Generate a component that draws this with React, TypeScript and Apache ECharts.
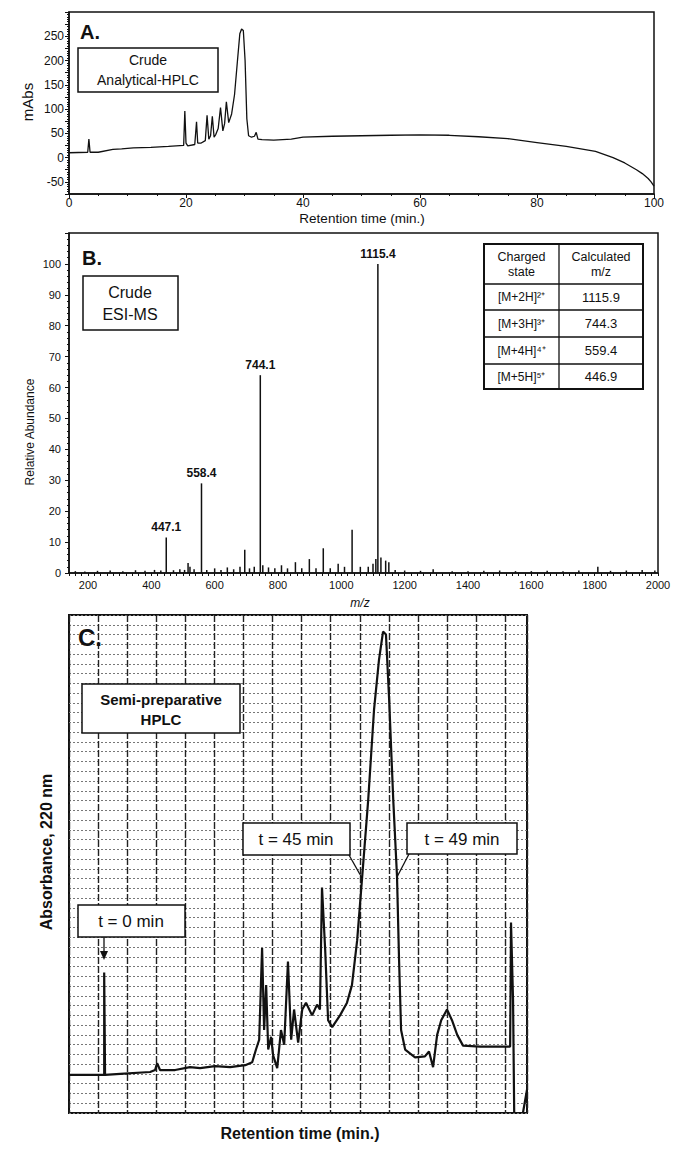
import { useEffect, useRef } from "react";
import * as echarts from "echarts";

const FONT = '"Liberation Sans", Arial, Helvetica, sans-serif';
const INK = "#111";

// ---------- Panel A: crude analytical HPLC ----------
const aTime = [0, 3.2, 3.4, 3.6, 5, 7.5, 9, 11, 14, 17, 19.6, 19.8, 20.0, 20.3, 21.5, 21.8, 22.0, 22.6, 23.3, 23.6, 23.9, 24.2, 24.5, 24.8, 25.1, 25.5, 25.9, 26.3, 26.6, 26.9, 27.3, 27.8, 28.3, 28.8, 29.2, 29.5, 29.8, 30.1, 30.4, 30.7, 31.2, 31.7, 32.0, 32.3, 33, 35, 38, 40, 45, 50, 55, 60, 65, 70, 75, 80, 85, 90, 93, 95, 97, 98, 99, 99.5, 100];
const aMAbs = [10, 11, 38, 11, 11, 17, 18, 20, 21, 23, 25, 96, 30, 24, 27, 74, 30, 30, 35, 87, 38, 45, 85, 42, 48, 60, 103, 55, 70, 115, 72, 90, 130, 200, 255, 265, 262, 200, 80, 45, 42, 44, 52, 38, 37, 36, 38, 42, 44, 45, 46, 47, 46, 43, 39, 31, 23, 13, 0, -11, -25, -33, -43, -50, -59];

// ---------- Panel B: crude ESI-MS ----------
const msMz = [160, 190, 230, 270, 310, 350, 380, 410, 430, 470, 490, 505, 516, 522, 535, 575, 600, 620, 640, 660, 680, 695, 710, 725, 752, 770, 790, 811, 830, 855, 875, 899, 920, 943, 965, 990, 1010, 1034, 1060, 1085, 1100, 1109, 1125, 1140, 1150, 1170, 1200, 1250, 1290, 1350, 1400, 1450, 1500, 1550, 1600, 1650, 1700, 1750, 1810, 1850, 1900, 1950, 1990];
const msAbund = [0.6, 0.5, 0.7, 0.8, 0.6, 0.9, 0.7, 1.0, 0.8, 0.9, 1.2, 1.0, 3.2, 2.0, 1.2, 1.0, 1.5, 1.0, 1.8, 1.2, 2.0, 7.5, 1.5, 2.0, 2.5, 1.8, 1.5, 2.5, 1.5, 3.5, 1.5, 4.5, 1.5, 8.0, 1.5, 3.0, 2.0, 14.0, 2.0, 2.0, 3.0, 4.5, 5.0, 4.0, 3.5, 1.0, 0.8, 0.7, 1.2, 0.6, 0.6, 0.7, 0.8, 0.6, 0.6, 0.7, 0.6, 0.8, 2.0, 0.7, 0.8, 1.0, 0.8];
const msPeakMz = [447.1, 558.4, 744.1, 1115.4];
const msPeakAbund = [11.5, 29, 64, 100];
const tableStates = ["[M+2H]²⁺", "[M+3H]³⁺", "[M+4H]⁴⁺", "[M+5H]⁵⁺"];
const tableCalc = ["1115.9", "744.3", "559.4", "446.9"];

// ---------- Panel C: semi-preparative HPLC (chart-paper divisions) ----------
const cDiv = [-1.0, 0.21, 0.21, 0.24, 0.76, 1.79, 1.96, 2.03, 2.13, 2.65, 3.16, 3.51, 4.02, 4.54, 5.06, 5.30, 5.43, 5.54, 5.64, 5.71, 5.78, 5.85, 5.95, 6.02, 6.16, 6.29, 6.40, 6.53, 6.64, 6.74, 6.88, 7.02, 7.15, 7.36, 7.53, 7.63, 7.70, 7.81, 7.91, 8.05, 8.32, 8.56, 8.73, 8.91, 9.08, 9.29, 9.49, 9.66, 9.80, 9.90, 10.01, 10.15, 10.28, 10.35, 10.42, 10.56, 10.90, 11.24, 11.38, 11.52, 11.66, 11.80, 12.00, 12.17, 12.35, 12.55, 13.14, 14.17, 14.20, 14.27, 14.31, 14.45, 14.61, 14.75];
const cAbs = [3.9, 3.9, 14.4, 3.9, 4.0, 4.2, 4.4, 5.1, 4.4, 4.4, 4.7, 4.6, 4.8, 4.7, 4.9, 5.2, 6.5, 7.5, 16.9, 8.5, 13.1, 6.5, 7.8, 5.9, 4.6, 8.5, 7.0, 15.5, 7.5, 10.6, 7.2, 10.6, 11.3, 10.0, 11.1, 10.6, 23.1, 16.7, 9.5, 8.8, 10.0, 11.3, 13.1, 17.7, 24.1, 32.1, 41.3, 46.4, 49.3, 49.0, 42.3, 32.1, 24.2, 15.7, 8.5, 6.5, 5.7, 5.8, 6.3, 4.7, 8.0, 9.5, 10.6, 9.5, 8.0, 6.9, 6.8, 6.8, 19.5, 11.6, 0, null, 0, 2.4];

function txt(text: string, x: number, y: number, size: number, opts: any = {}) {
  const weight = opts.bold ? "bold " : "";
  const italic = opts.italic ? "italic " : "";
  return {
    type: "text",
    x,
    y,
    z: 110,
    rotation: opts.rotation || 0,
    style: {
      text,
      font: `${italic}${weight}${size}px ${FONT}`,
      fill: INK,
      align: opts.align || "center",
      textAlign: opts.align || "center",
      verticalAlign: "middle",
      textVerticalAlign: "middle",
      lineHeight: opts.lineHeight,
    },
  };
}
function box(x: number, y: number, w: number, h: number, lw = 1.5) {
  return { type: "rect", z: 105, shape: { x, y, width: w, height: h }, style: { fill: "#fff", stroke: INK, lineWidth: lw } };
}
function ln(x1: number, y1: number, x2: number, y2: number, lw = 1.3) {
  return { type: "line", z: 106, shape: { x1, y1, x2, y2 }, style: { stroke: INK, lineWidth: lw } };
}

function buildOption(): any {
  const axisLabelStyle = (size: number) => ({ color: INK, fontFamily: FONT, fontSize: size });

  const msData: any[] = msMz.map((m, i) => [m, msAbund[i]]);
  msPeakMz.forEach((m, i) => {
    msData.push({
      value: [m, msPeakAbund[i]],
      label: {
        show: true,
        position: "top",
        distance: 4,
        formatter: (p: any) => p.value[0].toFixed(1),
        fontFamily: FONT,
        fontSize: 12,
        fontWeight: "bold",
        color: INK,
      },
    });
  });

  const graphic: any[] = [];
  // Panel A annotations
  graphic.push(txt("A.", 90, 32, 20, { bold: true }));
  graphic.push(box(78, 48, 140, 44));
  graphic.push(txt("Crude\nAnalytical-HPLC", 148, 70, 14, { lineHeight: 20 }));
  graphic.push(txt("mAbs", 27, 102, 15, { rotation: Math.PI / 2 }));
  graphic.push(txt("Retention time (min.)", 362, 218, 13.5));

  // Panel B annotations
  graphic.push(txt("B.", 92, 258, 20, { bold: true }));
  graphic.push(box(83, 276, 95, 54));
  graphic.push(txt("Crude\nESI-MS", 130, 303, 16, { lineHeight: 22 }));
  graphic.push(txt("Relative Abundance", 30, 432, 12, { rotation: Math.PI / 2 }));
  graphic.push(txt("m/z", 360, 603, 12, { italic: true }));
  // table
  const tX = 484, tY = 244, tW = 159, colX = 559;
  const rowLines = [284, 310, 337, 364, 389];
  graphic.push(box(tX, tY, tW, rowLines[4] - tY, 2));
  graphic.push(ln(colX, tY, colX, rowLines[4], 1.3));
  for (let i = 0; i < 4; i++) graphic.push(ln(tX, rowLines[i], tX + tW, rowLines[i], 1.3));
  graphic.push(txt("Charged\nstate", (tX + colX) / 2, 264, 12.5, { lineHeight: 15 }));
  graphic.push(txt("Calculated\nm/z", (colX + tX + tW) / 2, 264, 12.5, { lineHeight: 15 }));
  for (let i = 0; i < 4; i++) {
    const cy = (rowLines[i] + rowLines[i + 1]) / 2;
    graphic.push(txt(tableStates[i], (tX + colX) / 2, cy, 12));
    graphic.push(txt(tableCalc[i], (colX + tX + tW) / 2, cy, 13));
  }

  // Panel C annotations
  graphic.push(txt("C.", 90, 637, 24, { bold: true }));
  graphic.push(box(82, 684, 158, 49));
  graphic.push(txt("Semi-preparative\nHPLC", 161, 709, 15, { bold: true, lineHeight: 20 }));
  graphic.push(box(78, 905, 107, 32));
  graphic.push(txt("t = 0 min", 131, 921, 17));
  graphic.push(ln(104, 937, 104, 953, 1.3));
  graphic.push({ type: "polygon", z: 106, shape: { points: [[100, 951], [108, 951], [104, 960]] }, style: { fill: INK } });
  graphic.push(box(243, 823, 107, 32));
  graphic.push(txt("t = 45 min", 296, 839, 17));
  graphic.push(ln(349, 855, 362, 878, 1.3));
  graphic.push(box(407, 823, 110, 31));
  graphic.push(txt("t = 49 min", 462, 839, 17));
  graphic.push(ln(409, 854, 397, 877, 1.3));
  graphic.push(txt("Absorbance, 220 nm", 46, 852, 16, { bold: true, rotation: Math.PI / 2 }));
  graphic.push(txt("Retention time (min.)", 300, 1133, 16, { bold: true }));

  return {
    animation: false,
    backgroundColor: "#fff",
    textStyle: { fontFamily: FONT, color: INK },
    grid: [
      { left: 69, top: 12, width: 585, height: 182, show: true, borderColor: INK, borderWidth: 1.5, backgroundColor: "transparent", outerBoundsMode: "none" },
      { left: 69, top: 233, width: 589, height: 340, show: true, borderColor: INK, borderWidth: 1.5, backgroundColor: "transparent", outerBoundsMode: "none" },
      { left: 69, top: 615, width: 458, height: 498, show: true, borderColor: INK, borderWidth: 2, backgroundColor: "transparent", outerBoundsMode: "none" },
    ],
    xAxis: [
      {
        gridIndex: 0, type: "value", min: 0, max: 100, interval: 20,
        axisLine: { show: true, onZero: false, lineStyle: { color: INK, width: 1.5 } },
        axisTick: { show: true, length: 4, lineStyle: { color: INK } },
        minorTick: { show: true, splitNumber: 4, length: 2, lineStyle: { color: INK } },
        axisLabel: { ...axisLabelStyle(12), margin: 3 },
        splitLine: { show: false },
      },
      {
        gridIndex: 1, type: "value", min: 140, max: 2000, interval: 20,
        axisLine: { show: true, onZero: false, lineStyle: { color: INK, width: 1.5 } },
        axisTick: { show: true, length: 3, lineStyle: { color: INK } },
        axisLabel: { ...axisLabelStyle(11), margin: 6, formatter: (v: number) => (v % 200 === 0 ? String(v) : "") },
        splitLine: { show: false },
      },
      {
        gridIndex: 2, type: "value", min: -1, max: 14.75, interval: 1,
        axisLine: { show: false, onZero: false },
        axisTick: { show: false },
        axisLabel: { show: false },
        splitLine: { show: true, lineStyle: { color: "#222", width: 1.4, type: [7, 2] } },
      },
    ],
    yAxis: [
      {
        gridIndex: 0, type: "value", min: -75, max: 300, interval: 25,
        axisLine: { show: true, onZero: false, lineStyle: { color: INK, width: 1.5 } },
        axisTick: { show: true, length: 4, lineStyle: { color: INK } },
        minorTick: { show: true, splitNumber: 5, length: 2, lineStyle: { color: INK } },
        axisLabel: { ...axisLabelStyle(12), margin: 5, formatter: (v: number) => (v % 50 === 0 && v <= 250 ? String(v) : "") },
        splitLine: { show: false },
      },
      {
        gridIndex: 1, type: "value", min: 0, max: 110, interval: 10,
        axisLine: { show: true, onZero: false, lineStyle: { color: INK, width: 1.5 } },
        axisTick: { show: true, length: 4, lineStyle: { color: INK } },
        minorTick: { show: true, splitNumber: 5, length: 2, lineStyle: { color: INK } },
        axisLabel: { ...axisLabelStyle(11), margin: 8, formatter: (v: number) => (v <= 100 ? String(v) : "") },
        splitLine: { show: false },
      },
      {
        gridIndex: 2, type: "value", min: 0, max: 51, interval: 1,
        axisLine: { show: false, onZero: false },
        axisTick: { show: false },
        axisLabel: { show: false },
        splitLine: { show: true, lineStyle: { color: "#777", width: 1, type: [2, 2] } },
      },
    ],
    series: [
      {
        type: "line", xAxisIndex: 0, yAxisIndex: 0, silent: true, showSymbol: false, symbol: "none",
        lineStyle: { color: INK, width: 1.3 },
        data: aTime.map((t, i) => [t, aMAbs[i]]),
      },
      {
        type: "bar", xAxisIndex: 1, yAxisIndex: 1, silent: true, barWidth: 1.5,
        itemStyle: { color: INK },
        data: msData,
      },
      {
        type: "line", xAxisIndex: 2, yAxisIndex: 2, silent: true, showSymbol: false, symbol: "none",
        connectNulls: false, z: 5,
        lineStyle: { color: INK, width: 2.2 },
        data: cDiv.map((d, i) => [d, cAbs[i] === null ? "-" : cAbs[i]]),
      },
    ],
    graphic,
  };
}

export default function App() {
  const ref = useRef<HTMLDivElement>(null);
  useEffect(() => {
    document.body.style.margin = "0";
    const chart = echarts.init(ref.current!, null, { renderer: "svg" });
    chart.setOption(buildOption());
    return () => chart.dispose();
  }, []);
  return <div ref={ref} style={{ width: 689, height: 1150, background: "#fff" }} />;
}
